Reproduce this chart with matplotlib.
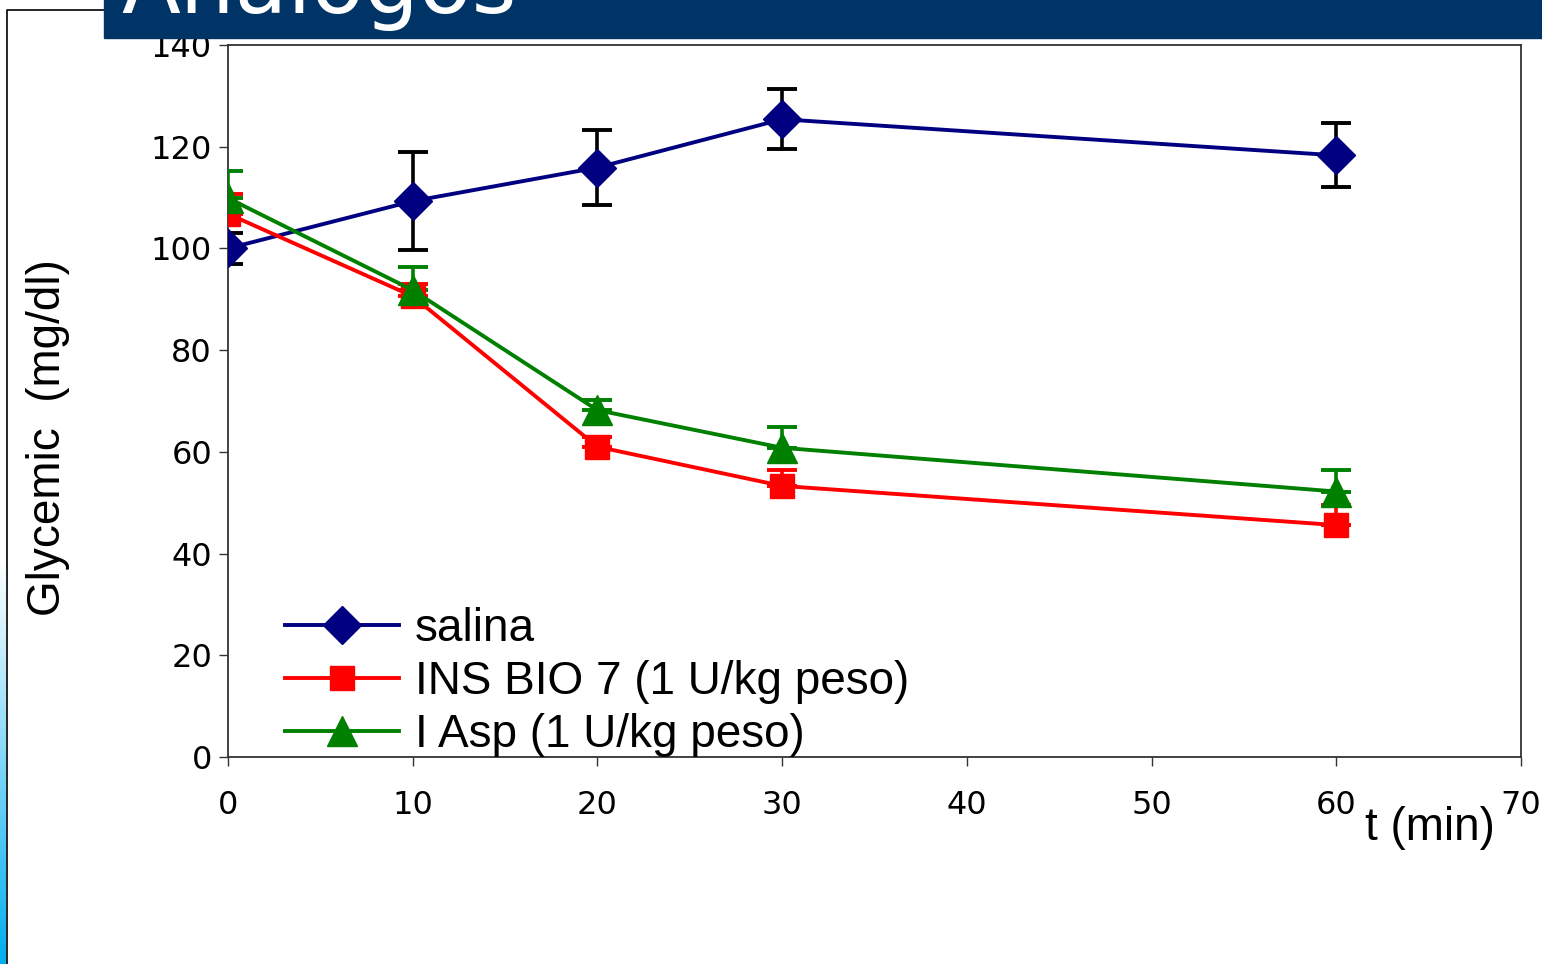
import numpy as np
import matplotlib.pyplot as plt
from matplotlib.patches import Rectangle
from matplotlib.lines import Line2D
from matplotlib.colors import LinearSegmentedColormap

# Dane: glikemia w czasie
t_min = [0, 10, 20, 30, 60]

salina = [100.0, 109.3, 115.9, 125.4, 118.3]
salina_err = [3.1, 9.7, 7.3, 5.9, 6.3]

ins_bio7 = [106.8, 90.6, 61.0, 53.3, 45.6]
ins_bio7_err = [4.0, 2.5, 2.0, 3.1, 3.9]

i_asp = [109.9, 91.8, 68.2, 60.8, 52.2]
i_asp_err = [5.3, 4.5, 1.9, 4.1, 4.2]

labels = ['salina', 'INS BIO 7 (1 U/kg peso)', 'I Asp (1 U/kg peso)']
title = 'Analogos'

W, H = 1542, 964
fig = plt.figure(figsize=(W / 100, H / 100), dpi=100)
ax = fig.add_axes([228 / W, 1 - 757 / H, (1521 - 228) / W, (757 - 45) / H])

sans = ['Liberation Sans', 'DejaVu Sans']
lw = 2.8

# salina - czarne słupki błędu
ax.errorbar(t_min, salina, yerr=salina_err, color='#000080', lw=lw,
            marker='D', ms=19, mec='#000080', mfc='#000080',
            ecolor='black', elinewidth=2.6, capsize=11, capthick=2.8, zorder=3)

zeros = np.zeros(len(t_min))
ax.errorbar(t_min, ins_bio7, yerr=[zeros, ins_bio7_err], color='#ff0000', lw=lw,
            marker='s', ms=17, mec='#ff0000', mfc='#ff0000',
            ecolor='#ff0000', elinewidth=2.6, capsize=11, capthick=2.8, zorder=3)

ax.errorbar(t_min, i_asp, yerr=[zeros, i_asp_err], color='#008000', lw=lw,
            marker='^', ms=22, mec='#008000', mfc='#008000',
            ecolor='#008000', elinewidth=2.6, capsize=11, capthick=2.8, zorder=3)

ax.set_xlim(0, 70)
ax.set_ylim(0, 140)
ax.set_xticks(np.arange(0, 71, 10))
ax.set_yticks(np.arange(0, 141, 20))
ax.tick_params(axis='both', direction='out', length=6.5, width=1, labelsize=23,
               colors='#333333', labelcolor='black')
ax.tick_params(axis='x', pad=17)
ax.tick_params(axis='y', pad=5)
for s in ax.spines.values():
    s.set_color('#333333')
    s.set_linewidth(1.3)

fig.text(48 / W, 1 - 438 / H, 'Glycemic  (mg/dl)', fontsize=33, family=sans,
         rotation=90, ha='center', va='center')
fig.text(1430 / W, 1 - 828 / H, 't (min)', fontsize=33, family=sans,
         ha='center', va='center')

handles = [
    Line2D([], [], color='#000080', lw=lw, marker='D', ms=19),
    Line2D([], [], color='#ff0000', lw=lw, marker='s', ms=17),
    Line2D([], [], color='#008000', lw=lw, marker='^', ms=22),
]
ax.legend(handles, labels, loc='lower left', bbox_to_anchor=(0.044, 0.0),
          frameon=False, prop={'family': sans, 'size': 33}, handlelength=2.5,
          handletextpad=0.33, labelspacing=0.2, borderpad=0, borderaxespad=0)

# pasek tytułu
fig.add_artist(Rectangle((104 / W, 1 - 38 / H), 1 - 104 / W, 38 / H,
                         transform=fig.transFigure, color='#003366', zorder=10))
fig.text(121 / W, 1 - 13 / H, title, color='white', fontsize=62,
         family='DejaVu Sans', ha='left', va='baseline', zorder=11)

# ramka i gradient przy lewej krawędzi
fig.add_artist(Line2D([7 / W, 7 / W, 104 / W], [0, 1 - 10 / H, 1 - 10 / H],
                      transform=fig.transFigure, color='black', lw=1.2, zorder=9))
gax = fig.add_axes([0, 0, 6 / W, 404 / H])
grad = np.linspace(0, 1, 256).reshape(-1, 1)
cmap = LinearSegmentedColormap.from_list('g', ['#00aeef', '#ffffff'])
gax.imshow(grad, aspect='auto', cmap=cmap, origin='lower')
gax.axis('off')

fig.savefig('out.png', dpi=100)
